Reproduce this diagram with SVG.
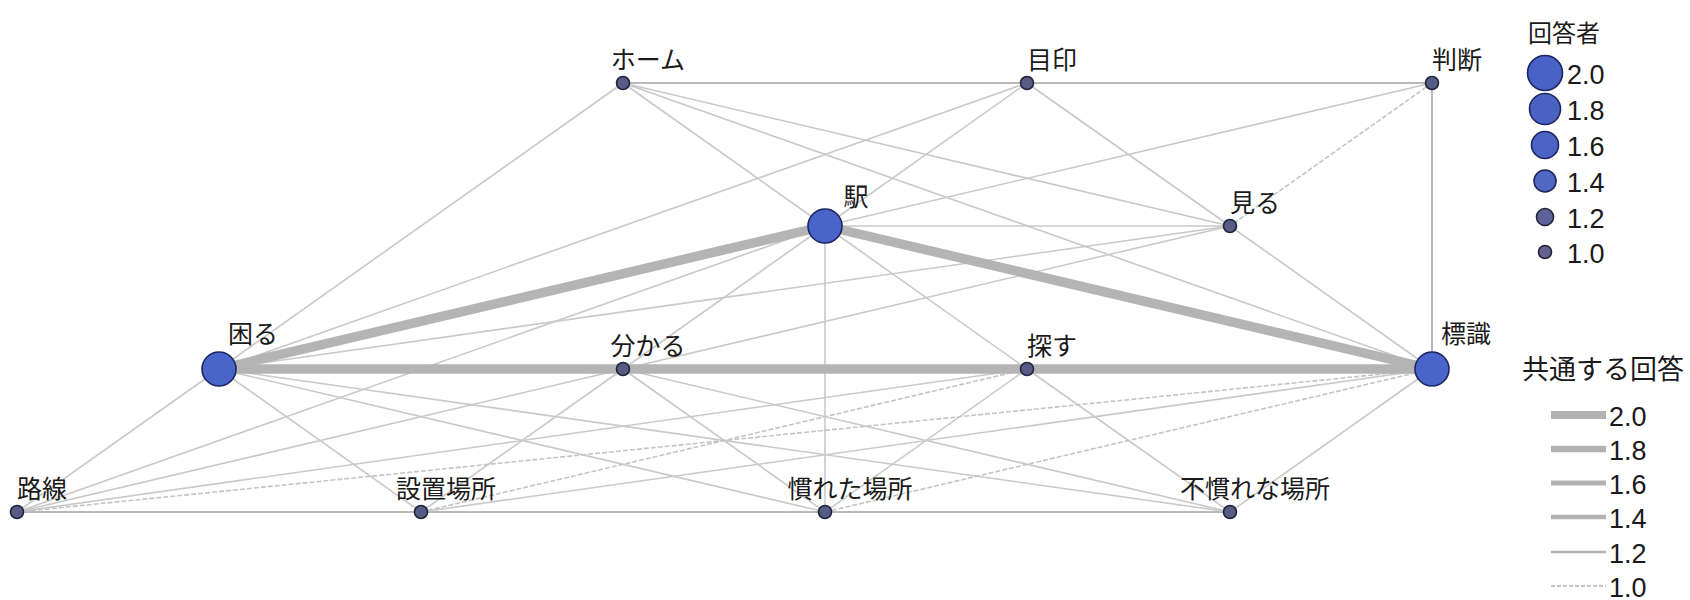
<svg xmlns="http://www.w3.org/2000/svg" width="1690" height="600" viewBox="0 0 1690 600">
<style>
.bg{fill:#ffffff}
.thick{stroke:#b4b4b4;stroke-width:9.5;fill:none}
.e12{stroke:#b9b9b9;stroke-width:2;fill:none}
.e10{stroke:#c9c9c9;stroke-width:1.6;fill:none}
.e10d{stroke:#c4c4c4;stroke-width:1.6;fill:none;stroke-dasharray:5 2}
.big{fill:#4a65c9;stroke:#1d2660;stroke-width:1.6}
.small{fill:#575c86;stroke:#20243a;stroke-width:1.6}
.lbl{font-family:"Noto Sans CJK JP","Noto Sans CJK SC",sans-serif;font-size:25px;fill:#1a1a1a;text-anchor:middle}
.ttl{font-family:"Noto Sans CJK JP","Noto Sans CJK SC",sans-serif;font-size:27px;fill:#1a1a1a}
.num{font-family:"Liberation Sans",Arial,sans-serif;font-size:27px;fill:#1a1a1a}
.lg{stroke:#b2b2b2;fill:none}
</style>
<rect class="bg" x="0" y="0" width="1690" height="600"/>
<g id="connectors">
  <line class="e12" x1="623" y1="83" x2="1027" y2="83"/>
  <line class="e12" x1="1027" y1="83" x2="1432" y2="83"/>
  <line class="e12" x1="17" y1="512" x2="421" y2="512"/>
  <line class="e12" x1="421" y1="512" x2="825" y2="512"/>
  <line class="e12" x1="825" y1="512" x2="1230" y2="512"/>
  <line class="e10" x1="623" y1="83" x2="219" y2="369"/>
  <line class="e10" x1="219" y1="369" x2="17" y2="512"/>
  <line class="e10" x1="623" y1="83" x2="825" y2="226"/>
  <line class="e10" x1="825" y1="226" x2="1027" y2="369"/>
  <line class="e10" x1="1027" y1="369" x2="1230" y2="512"/>
  <line class="e10" x1="623" y1="83" x2="1230" y2="226"/>
  <line class="e10" x1="623" y1="83" x2="1432" y2="369"/>
  <line class="e10" x1="1027" y1="83" x2="219" y2="369"/>
  <line class="e10" x1="1027" y1="83" x2="825" y2="226"/>
  <line class="e10" x1="825" y1="226" x2="623" y2="369"/>
  <line class="e10" x1="623" y1="369" x2="421" y2="512"/>
  <line class="e10" x1="1027" y1="83" x2="1230" y2="226"/>
  <line class="e10" x1="1230" y1="226" x2="1432" y2="369"/>
  <line class="e10" x1="1432" y1="83" x2="825" y2="226"/>
  <line class="e10d" x1="1432" y1="83" x2="1230" y2="226"/>
  <line class="e12" x1="1432" y1="83" x2="1432" y2="369"/>
  <line class="e10" x1="825" y1="226" x2="1230" y2="226"/>
  <line class="e10" x1="825" y1="226" x2="825" y2="512"/>
  <line class="e10" x1="17" y1="512" x2="825" y2="226"/>
  <line class="e10" x1="219" y1="369" x2="1230" y2="226"/>
  <line class="e10" x1="219" y1="369" x2="421" y2="512"/>
  <line class="e10" x1="219" y1="369" x2="825" y2="512"/>
  <line class="e10" x1="219" y1="369" x2="1230" y2="512"/>
  <line class="e10" x1="17" y1="512" x2="1230" y2="226"/>
  <line class="e10" x1="17" y1="512" x2="1027" y2="369"/>
  <line class="e10d" x1="17" y1="512" x2="1432" y2="369"/>
  <line class="e10d" x1="421" y1="512" x2="1027" y2="369"/>
  <line class="e10" x1="421" y1="512" x2="1432" y2="369"/>
  <line class="e10" x1="623" y1="369" x2="825" y2="512"/>
  <line class="e10" x1="623" y1="369" x2="1230" y2="512"/>
  <line class="e10" x1="825" y1="512" x2="1027" y2="369"/>
  <line class="e10d" x1="825" y1="512" x2="1432" y2="369"/>
  <line class="e10" x1="1230" y1="512" x2="1432" y2="369"/>
  <line class="thick" x1="219" y1="369" x2="825" y2="226"/>
  <line class="thick" x1="825" y1="226" x2="1432" y2="369"/>
  <line class="thick" x1="219" y1="369" x2="1432" y2="369"/>
</g>
<g id="node-home"><circle class="small" cx="623" cy="83" r="6.5"/><text class="lbl" x="648" y="69">ホーム</text></g>
<g id="node-mejirushi"><circle class="small" cx="1027" cy="83" r="6.5"/><text class="lbl" x="1052" y="69">目印</text></g>
<g id="node-handan"><circle class="small" cx="1432" cy="83" r="6.5"/><text class="lbl" x="1457" y="69">判断</text></g>
<g id="node-eki"><circle class="big" cx="825" cy="226" r="17"/><text class="lbl" x="856" y="206">駅</text></g>
<g id="node-miru"><circle class="small" cx="1230" cy="226" r="6.5"/><text class="lbl" x="1255" y="212">見る</text></g>
<g id="node-komaru"><circle class="big" cx="219" cy="369" r="17"/><text class="lbl" x="253" y="343">困る</text></g>
<g id="node-wakaru"><circle class="small" cx="623" cy="369" r="6.5"/><text class="lbl" x="648" y="355">分かる</text></g>
<g id="node-sagasu"><circle class="small" cx="1027" cy="369" r="6.5"/><text class="lbl" x="1052" y="355">探す</text></g>
<g id="node-hyoshiki"><circle class="big" cx="1432" cy="369" r="17"/><text class="lbl" x="1466" y="343">標識</text></g>
<g id="node-rosen"><circle class="small" cx="17" cy="512" r="6.5"/><text class="lbl" x="42" y="498">路線</text></g>
<g id="node-setchi"><circle class="small" cx="421" cy="512" r="6.5"/><text class="lbl" x="446" y="498">設置場所</text></g>
<g id="node-nareta"><circle class="small" cx="825" cy="512" r="6.5"/><text class="lbl" x="850" y="498">慣れた場所</text></g>
<g id="node-funare"><circle class="small" cx="1230" cy="512" r="6.5"/><text class="lbl" x="1255" y="498">不慣れな場所</text></g>
<g id="legend-size">
  <text class="ttl" x="1528" y="42" style="font-size:24px">回答者</text>
  <circle cx="1545" cy="73" r="17.5" fill="#4863c5" stroke="#1d2660" stroke-width="1.6"/>
  <circle cx="1545" cy="109" r="15.5" fill="#4a62c2" stroke="#1d2660" stroke-width="1.6"/>
  <circle cx="1545" cy="145" r="13.5" fill="#4c64c4" stroke="#1d2660" stroke-width="1.6"/>
  <circle cx="1545" cy="181" r="11" fill="#5068c2" stroke="#1d2660" stroke-width="1.6"/>
  <circle cx="1545" cy="217" r="8.5" fill="#5d6396" stroke="#20243a" stroke-width="1.6"/>
  <circle cx="1545" cy="252" r="6.5" fill="#62628c" stroke="#20243a" stroke-width="1.6"/>
  <text class="num" x="1567" y="84">2.0</text>
  <text class="num" x="1567" y="120">1.8</text>
  <text class="num" x="1567" y="156">1.6</text>
  <text class="num" x="1567" y="192">1.4</text>
  <text class="num" x="1567" y="228">1.2</text>
  <text class="num" x="1567" y="263">1.0</text>
</g>
<g id="legend-width">
  <text class="ttl" x="1522" y="379">共通する回答</text>
  <line class="lg" x1="1551" y1="415" x2="1606" y2="415" stroke-width="8"/>
  <line class="lg" x1="1551" y1="449" x2="1606" y2="449" stroke-width="6.5"/>
  <line class="lg" x1="1551" y1="483" x2="1606" y2="483" stroke-width="5"/>
  <line class="lg" x1="1551" y1="517" x2="1606" y2="517" stroke-width="4.5"/>
  <line class="lg" x1="1551" y1="552" x2="1606" y2="552" stroke-width="2.5"/>
  <line class="lg" x1="1551" y1="586" x2="1606" y2="586" stroke-width="1.5" stroke-dasharray="4 2"/>
  <text class="num" x="1609" y="426">2.0</text>
  <text class="num" x="1609" y="460">1.8</text>
  <text class="num" x="1609" y="494">1.6</text>
  <text class="num" x="1609" y="528">1.4</text>
  <text class="num" x="1609" y="563">1.2</text>
  <text class="num" x="1609" y="597">1.0</text>
</g>
</svg>
